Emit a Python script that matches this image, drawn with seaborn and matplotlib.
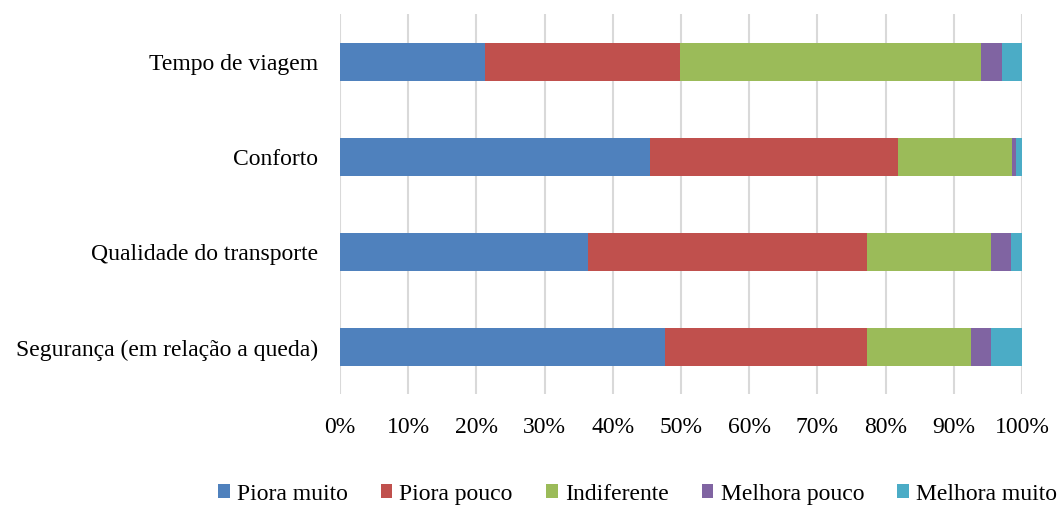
import numpy as np
import pandas as pd
import seaborn as sns
import matplotlib.pyplot as plt
from matplotlib.patches import Patch

categories = ['Tempo de viagem', 'Conforto', 'Qualidade do transporte', 'Segurança (em relação a queda)']
series = ['Piora muito', 'Piora pouco', 'Indiferente', 'Melhora pouco', 'Melhora muito']
piora_muito = [21.3, 45.5, 36.4, 47.7]
piora_pouco = [28.6, 36.3, 40.9, 29.6]
indiferente = [44.1, 16.7, 18.2, 15.2]
melhora_pouco = [3.0, 0.6, 2.9, 3.0]
melhora_muito = [3.0, 0.9, 1.6, 4.5]
colors = ['#4F81BD', '#C0504D', '#9BBB59', '#8064A2', '#4BACC6']

sns.set_style('white')
plt.rcParams['font.family'] = ['Liberation Serif', 'DejaVu Serif']
plt.rcParams['text.color'] = 'black'
plt.rcParams['xtick.color'] = 'black'
plt.rcParams['ytick.color'] = 'black'

values = np.array([piora_muito, piora_pouco, indiferente, melhora_pouco, melhora_muito])
cum = values.cumsum(axis=0)

fig = plt.figure(figsize=(10.57, 5.06), dpi=100)
ax = fig.add_axes([340 / 1057, 1 - 395 / 506, 682 / 1057, 380 / 506])

# draw cumulative bars from the right end back, so they look stacked
for i in range(len(series) - 1, -1, -1):
    df = pd.DataFrame({'cat': categories, 'val': cum[i]})
    sns.barplot(data=df, x='val', y='cat', orient='h', color=colors[i],
                width=0.4, linewidth=0, saturation=1, ax=ax, zorder=3)

ax.set_xlim(0, 100)
ax.set_ylim(3.5, -0.5)
ax.set_xticks(np.arange(0, 101, 10))
ax.set_xticklabels([f'{t}%' for t in range(0, 101, 10)])
ax.grid(axis='x', color='#D9D9D9', linewidth=1.5, zorder=0)
ax.set_axisbelow(True)
for s in ax.spines.values():
    s.set_visible(False)
ax.set_xlabel('')
ax.set_ylabel('')
ax.tick_params(axis='x', length=0, pad=16, labelsize=17)
ax.tick_params(axis='y', length=0, pad=16, labelsize=17)

handles = [Patch(facecolor=c, edgecolor='none') for c in colors]
fig.legend(handles, series, loc='center', bbox_to_anchor=(0.603, 0.022), ncol=5,
           frameon=False, fontsize=17, handlelength=0.5, handleheight=0.5,
           handletextpad=0.3, columnspacing=1.4)

plt.savefig('out.png', dpi=100)
